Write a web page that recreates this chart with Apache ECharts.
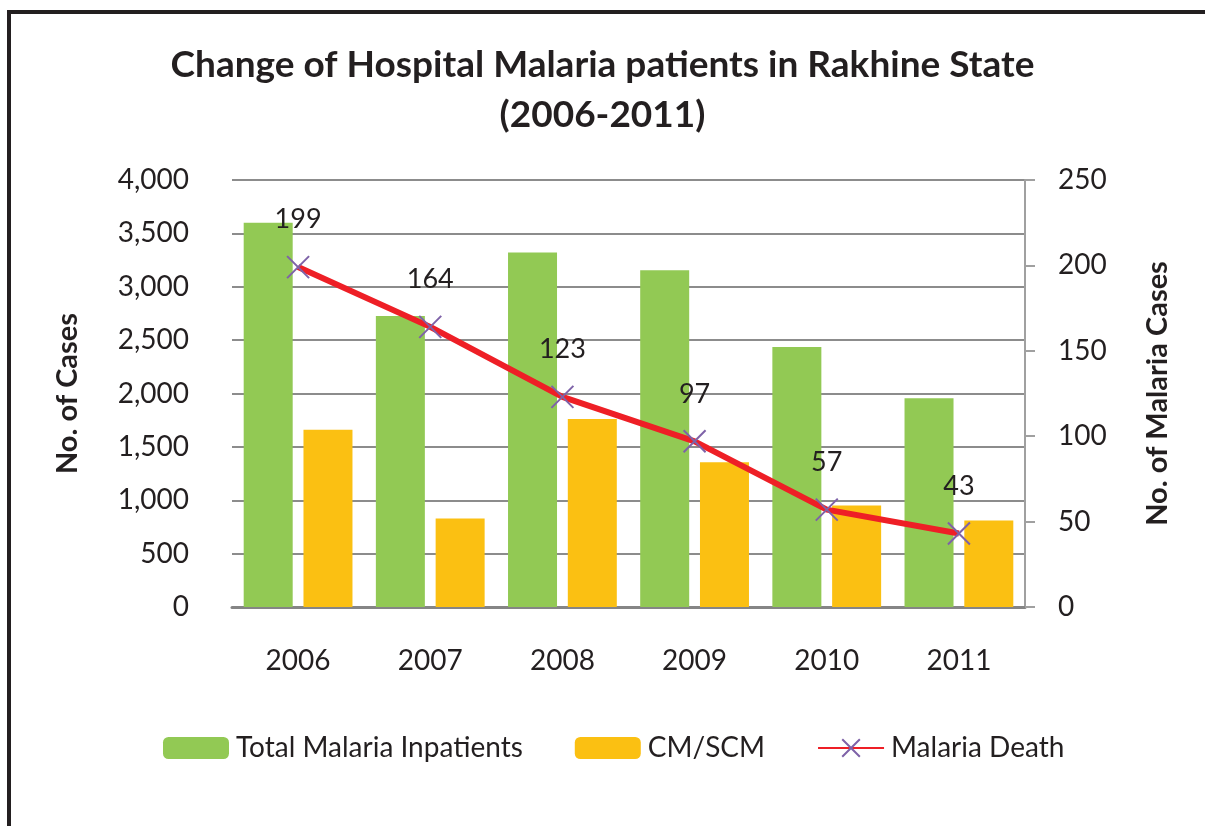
<!DOCTYPE html>
<html>
<head>
<meta charset="utf-8">
<script src="https://cdn.jsdelivr.net/npm/echarts@6/dist/echarts.min.js"></script>
<style>
  html, body { margin: 0; padding: 0; background: #fff; }
  #chart { width: 1205px; height: 826px; }
</style>
</head>
<body>
<div id="chart"></div>
<script>
  const years = ['2006', '2007', '2008', '2009', '2010', '2011'];
  const inpatients = [3600, 2725, 3320, 3155, 2435, 1955];
  const cmScm = [1660, 830, 1760, 1355, 950, 810];
  const deaths = [199, 164, 123, 97, 57, 43];

  const font = 'Lato, "Open Sans", sans-serif';
  const chart = echarts.init(document.getElementById('chart'));

  chart.setOption({
    animation: false,
    backgroundColor: '#fff',
    graphic: [{
      type: 'rect',
      shape: {x: 9, y: 12, width: 1400, height: 1000},
      style: {fill: 'none', stroke: '#231f20', lineWidth: 4}
    }],
    title: {
      text: 'Change of Hospital Malaria patients in Rakhine State\n(2006-2011)',
      left: 'center',
      top: 35,
      textStyle: {fontFamily: font, fontSize: 37, fontWeight: 'bold', color: '#231f20', lineHeight: 50}
    },
    legend: {
      top: 729,
      left: 158,
      itemWidth: 66,
      itemHeight: 22,
      itemGap: 52,
      textStyle: {fontFamily: font, fontSize: 28, color: '#231f20', padding: [0, 0, 0, 2]},
      data: ['Total Malaria Inpatients', 'CM/SCM', 'Malaria Death']
    },
    grid: {left: 232, right: 180, top: 180, bottom: 219},
    xAxis: {
      type: 'category',
      data: years,
      axisLine: {lineStyle: {color: '#858585', width: 3}},
      axisTick: {show: false},
      axisLabel: {fontFamily: font, fontSize: 28, color: '#231f20', margin: 40}
    },
    yAxis: [{
      type: 'value',
      min: 0, max: 4000, interval: 500,
      name: 'No. of Cases',
      nameLocation: 'middle',
      nameGap: 150,
      nameTextStyle: {fontFamily: font, fontSize: 29, fontWeight: 'bold', color: '#231f20'},
      axisLine: {show: false},
      axisTick: {show: false},
      axisLabel: {fontFamily: font, fontSize: 28, color: '#231f20', margin: 43,
        formatter: v => v.toLocaleString('en-US')},
      splitLine: {lineStyle: {color: '#8c8c8c', width: 2}}
    }, {
      type: 'value',
      min: 0, max: 250, interval: 50,
      name: 'No. of Malaria Cases',
      nameLocation: 'middle',
      nameGap: 118,
      nameRotate: 90,
      nameTextStyle: {fontFamily: font, fontSize: 29, fontWeight: 'bold', color: '#231f20'},
      axisLine: {show: true, lineStyle: {color: '#a0a0a0', width: 2}},
      axisTick: {show: true, length: 10, lineStyle: {color: '#a0a0a0', width: 2}},
      axisLabel: {fontFamily: font, fontSize: 28, color: '#231f20', margin: 33},
      splitLine: {show: false}
    }],
    series: [{
      name: 'Total Malaria Inpatients',
      type: 'bar',
      data: inpatients,
      barWidth: 49,
      barGap: '22%',
      itemStyle: {color: '#92c954'}
    }, {
      name: 'CM/SCM',
      type: 'bar',
      data: cmScm,
      barWidth: 49,
      itemStyle: {color: '#fbc012'}
    }, {
      name: 'Malaria Death',
      type: 'line',
      yAxisIndex: 1,
      data: deaths,
      symbol: 'path://M0,0L10,10M10,0L0,10',
      symbolSize: 22,
      itemStyle: {color: '#ee1f26', borderColor: '#7e62a8', borderWidth: 2},
      lineStyle: {color: '#ee1f26', width: 6},
      label: {
        show: true, position: 'top', distance: 22,
        fontFamily: font, fontSize: 27, color: '#231f20'
      },
      z: 5
    }]
  });
</script>
</body>
</html>
